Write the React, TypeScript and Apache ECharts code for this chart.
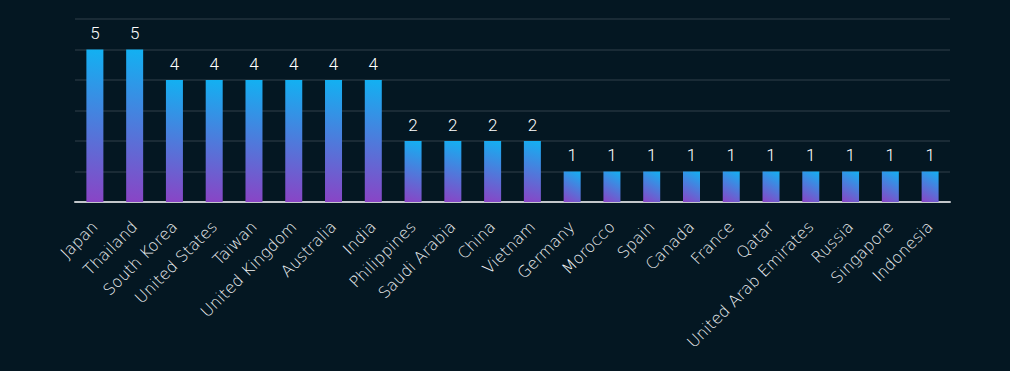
import React, { useEffect, useRef } from "react";
import * as echarts from "echarts";

const countries = [
  "Japan", "Thailand", "South Korea", "United States", "Taiwan", "United Kingdom",
  "Australia", "India", "Philippines", "Saudi Arabia", "China", "Vietnam", "Germany",
  "Morocco", "Spain", "Canada", "France", "Qatar", "United Arab Emirates", "Russia",
  "Singapore", "Indonesia",
];
const counts = [5, 5, 4, 4, 4, 4, 4, 4, 2, 2, 2, 2, 1, 1, 1, 1, 1, 1, 1, 1, 1, 1];

const BAR_W = 17;
const PX_PER_UNIT = 30.5;

// Mimic a corner-to-corner gradient (top-right -> bottom-left) in pixel space
function barGradient(value: number) {
  const w = BAR_W;
  const h = value * PX_PER_UNIT;
  const a = w * w;
  const b = h * h;
  const d = a * a + b * b;
  const x1 = (a * a) / d, y1 = (-a * b) / d;
  const x2 = (-a * b) / d, y2 = (b * b) / d;
  return new echarts.graphic.LinearGradient(x1, y1, x2, y2, [
    { offset: 0, color: "#12b1f2" },
    { offset: 1, color: "#8a44c5" },
  ]);
}

export default function App() {
  const ref = useRef<HTMLDivElement>(null);
  useEffect(() => {
    if (!ref.current) return;
    const chart = echarts.init(ref.current, null, { renderer: "svg" });
    chart.setOption({
      animation: false,
      backgroundColor: "#041722",
      grid: { left: 75, right: 60, top: 19, bottom: 169 },
      xAxis: {
        type: "category",
        data: countries,
        axisLine: { lineStyle: { color: "#c3c7cb", width: 2 } },
        axisTick: { show: false },
        axisLabel: {
          rotate: 45,
          interval: 0,
          color: "#f2f4f6",
          fontSize: 16,
          fontWeight: 200,
          fontFamily: "DejaVu Sans",
          margin: 22,
        },
      },
      yAxis: {
        type: "value",
        min: 0,
        max: 6,
        interval: 1,
        axisLabel: { show: false },
        axisLine: { show: false },
        axisTick: { show: false },
        splitLine: { lineStyle: { color: "#1a2b36", width: 2 } },
      },
      series: [
        {
          type: "bar",
          data: counts.map((v) => ({ value: v, itemStyle: { color: barGradient(v) } })),
          barWidth: BAR_W,
          label: {
            show: true,
            position: "top",
            distance: 8,
            color: "#ffffff",
            fontSize: 17,
            fontWeight: 300,
            fontFamily: "Roboto",
          },
        },
      ],
    });
    return () => chart.dispose();
  }, []);
  return <div ref={ref} style={{ width: 1010, height: 371, position: "absolute", left: 0, top: 0 }} />;
}
